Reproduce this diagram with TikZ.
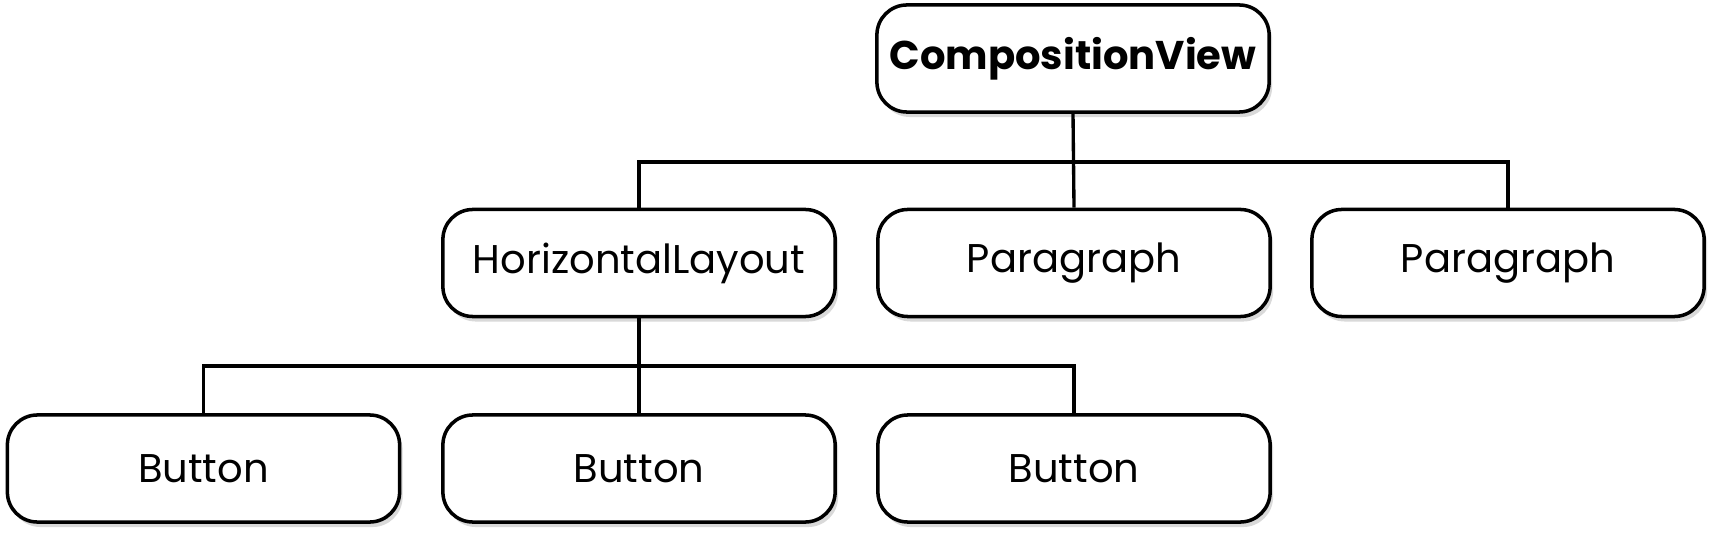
\documentclass[tikz,border=0pt]{standalone}
\usepackage{fontspec}
\setmainfont{Poppins}
\usetikzlibrary{shadows}
\begin{document}
\begin{tikzpicture}[x=0.01cm,y=-0.01cm,
  box/.style={draw=black, line width=1pt, rounded corners=0.3cm, fill=white,
    minimum width=3.92cm, minimum height=1.07cm, inner sep=0pt,
    font=\fontsize{11.4}{13}\selectfont,
    drop shadow={shadow xshift=0.03cm, shadow yshift=-0.05cm, opacity=0.15, fill=black}},
  conn/.style={draw=black, line width=0.95pt}]
\useasboundingbox (0,0) rectangle (1713,540);
\node[box, font=\fontsize{11.4}{13}\selectfont\bfseries] (cv) at (1073,58.5) {CompositionView};
\node[box] (hl) at (639,263) {HorizontalLayout};
\node[box] (p1) at (1074,263) {Paragraph};
\node[box] (p2) at (1508,263) {Paragraph};
\node[box] (b1) at (203.5,468.5) {Button};
\node[box] (b2) at (639,468.5) {Button};
\node[box] (b3) at (1074,468.5) {Button};
\coordinate (j1) at (1074,162);
\coordinate (j2) at (639,366);
\draw[conn] (hl.north) |- (p2.north |- j1) -- (p2.north);
\draw[conn] (cv.south) -- (p1.north);
\draw[conn] (b1.north) |- (b3.north |- j2) -- (b3.north);
\draw[conn] (hl.south) -- (b2.north);
\end{tikzpicture}
\end{document}
